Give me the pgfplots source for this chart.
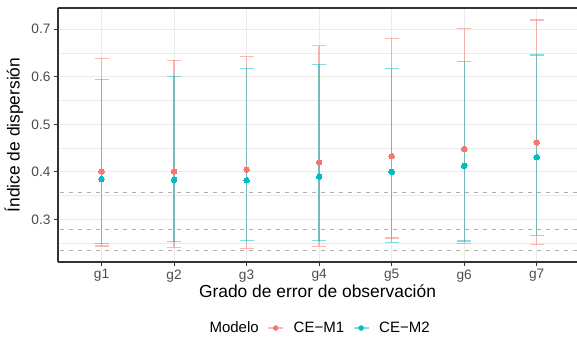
\documentclass[border=0pt]{standalone}
\usepackage{pgfplots}
\pgfplotsset{compat=1.18}
\usepackage{pgfplotstable}
\usepackage{fontspec}
\setmainfont{Liberation Sans}
\usetikzlibrary{calc}
\definecolor{cA}{HTML}{F8766D}
\definecolor{cB}{HTML}{00BFC4}
\definecolor{gridc}{HTML}{EBEBEB}
\definecolor{axc}{HTML}{333333}
\definecolor{tlc}{HTML}{4D4D4D}
\definecolor{dashc}{HTML}{AFAFAF}

\pgfplotstableread{
x y hi lo
1 0.401 0.639 0.244
2 0.401 0.6345 0.241
3 0.405 0.642 0.239
4 0.420 0.665 0.2436
5 0.433 0.681 0.261
6 0.448 0.701 0.250
7 0.462 0.7194 0.248
}\tabA

\pgfplotstableread{
x y hi lo
1 0.385 0.5945 0.2493
2 0.383 0.601 0.2535
3 0.3825 0.6177 0.2556
4 0.390 0.626 0.2556
5 0.400 0.617 0.252
6 0.4126 0.6316 0.2547
7 0.431 0.6457 0.2667
}\tabB

\begin{document}
\begin{tikzpicture}
\begin{axis}[
 scale only axis, width=519pt, height=254pt,
 xmin=0.4, xmax=7.555, ymin=0.2105, ymax=0.7446,
 axis x line*=bottom, axis y line*=left,
 axis line style={axc, line width=1.1pt},
 xtick={1,2,3,4,5,6,7}, xticklabels={g1,g2,g3,g4,g5,g6,g7},
 ytick={0.3,0.4,0.5,0.6,0.7},
 minor ytick={0.25,0.35,0.45,0.55,0.65},
 yticklabel style={/pgf/number format/fixed, /pgf/number format/precision=1, /pgf/number format/fixed zerofill},
 /pgf/number format/assume math mode=true,
 xmajorgrids, ymajorgrids, yminorgrids,
 major grid style={gridc, line width=1.1pt},
 minor grid style={gridc, line width=0.55pt},
 tick align=outside, major tick length=4pt, minor tick length=0pt,
 tick style={axc, line width=1.1pt},
 ticklabel style={font=\fontsize{13.7}{16}\selectfont, text=tlc},
 xlabel={Grado de error de observación}, ylabel={Índice de dispersión},
 label style={font=\fontsize{17.4}{20}\selectfont, text=black},
 xlabel style={at={(axis description cs:0.5,0)}, anchor=center, yshift=-29pt},
 ylabel style={at={(axis description cs:0,0.5)}, anchor=center, yshift=44pt},
 legend columns=3,
 legend style={at={(0.504,-0.26)}, anchor=center, draw=none, fill=none,
   font=\fontsize{15}{18}\selectfont,
   nodes={inner xsep=0pt},
   /tikz/column sep=0pt,
   /tikz/every odd column/.style={column sep=0pt},
   /tikz/every even column/.style={column sep=0pt}},
]
\coordinate (pSW) at (rel axis cs:0,0);
\coordinate (pNE) at (rel axis cs:1,1);
\addlegendimage{empty legend}
\addlegendentry{Modelo}

\addplot[forget plot, dashc, line width=0.7pt, dash pattern=on 4.5pt off 4.5pt] coordinates {(0.3,0.357) (7.7,0.357)};
\addplot[forget plot, dashc, line width=0.7pt, dash pattern=on 4.5pt off 4.5pt] coordinates {(0.3,0.2787) (7.7,0.2787)};
\addplot[forget plot, dashc, line width=0.7pt, dash pattern=on 4.5pt off 4.5pt] coordinates {(0.3,0.2345) (7.7,0.2345)};

\addplot[forget plot, cA, draw=none, mark=none,
  error bars/.cd, y dir=both, y explicit, error mark=|,
  error bar style={draw=cA, draw opacity=0.5, line width=1.3pt, solid},
  error mark options={draw=cA, draw opacity=0.5, line width=1.3pt, mark size=7pt, solid}]
  table[x=x, y=y, y error plus expr=\thisrow{hi}-\thisrow{y}, y error minus expr=\thisrow{y}-\thisrow{lo}] {\tabA};
\addplot[forget plot, cB, draw=none, mark=none,
  error bars/.cd, y dir=both, y explicit, error mark=|,
  error bar style={draw=cB, draw opacity=0.5, line width=1.3pt, solid},
  error mark options={draw=cB, draw opacity=0.5, line width=1.3pt, mark size=7pt, solid}]
  table[x=x, y=y, y error plus expr=\thisrow{hi}-\thisrow{y}, y error minus expr=\thisrow{y}-\thisrow{lo}] {\tabB};

\addplot[cA, only marks, mark=*, mark size=2.8pt, mark options={solid, draw=cA, fill=cA, line width=0pt},
  legend image code/.code={\path[draw=none, fill=none] (0pt,-1pt) rectangle (35pt,1pt); \draw[cA, draw opacity=0.5, line width=1.1pt] (9.5pt,0pt) -- (24.5pt,0pt); \fill[cA] (17pt,0pt) circle (2.5pt);}]
  table[x=x, y=y] {\tabA};
\addlegendentry{CE−M1}
\addplot[cB, only marks, mark=*, mark size=2.8pt, mark options={solid, draw=cB, fill=cB, line width=0pt},
  legend image code/.code={\path[draw=none, fill=none] (0pt,-1pt) rectangle (35pt,1pt); \draw[cB, draw opacity=0.5, line width=1.1pt] (9.5pt,0pt) -- (24.5pt,0pt); \fill[cB] (17pt,0pt) circle (2.5pt);}]
  table[x=x, y=y] {\tabB};
\addlegendentry{CE−M2}
\end{axis}
\draw[axc, line width=1.1pt] (pSW |- pNE) -- (pNE);
\pgfresetboundingbox
\path[use as bounding box] ($(pSW)+(-58pt,-80pt)$) rectangle ($(pNE)+(0pt,8pt)$);
\end{tikzpicture}
\end{document}
